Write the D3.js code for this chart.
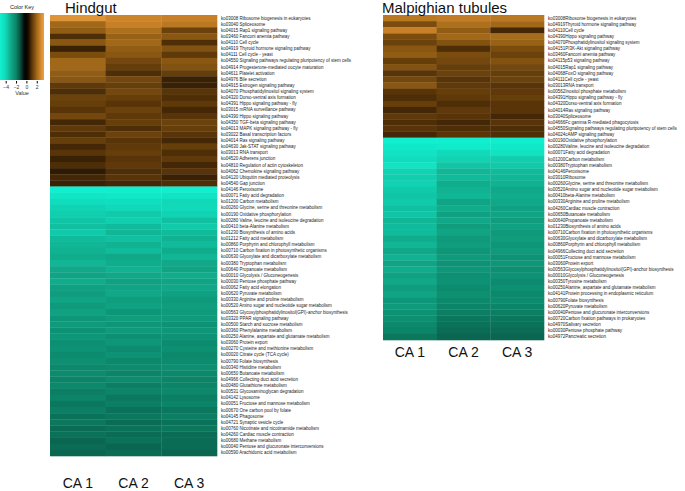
<!DOCTYPE html>
<html><head><meta charset="utf-8">
<script src="https://cdn.jsdelivr.net/npm/d3@7/dist/d3.min.js"></script>
<style>body{margin:0;background:#fff}svg{display:block}</style>
</head><body>
<svg id="c" width="685" height="491"></svg>
<script>
const samples = ["CA 1","CA 2","CA 3"];
const keyTicks = [-4,-2,0,2];

const hgLabels = ["ko03008 Ribosome biogenesis in eukaryotes","ko03040 Spliceosome","ko04015 Rap1 signaling pathway","ko03460 Fanconi anemia pathway","ko04110 Cell cycle","ko04919 Thyroid hormone signaling pathway","ko04111 Cell cycle - yeast","ko04550 Signaling pathways regulating pluripotency of stem cells","ko04914 Progesterone-mediated oocyte maturation","ko04611 Platelet activation","ko04976 Bile secretion","ko04915 Estrogen signaling pathway","ko04070 Phosphatidylinositol signaling system","ko04320 Dorso-ventral axis formation","ko04391 Hippo signaling pathway - fly","ko03015 mRNA surveillance pathway","ko04390 Hippo signaling pathway","ko04350 TGF-beta signaling pathway","ko04013 MAPK signaling pathway - fly","ko03022 Basal transcription factors","ko04014 Ras signaling pathway","ko04630 Jak-STAT signaling pathway","ko03013 RNA transport","ko04520 Adherens junction","ko04810 Regulation of actin cytoskeleton","ko04062 Chemokine signaling pathway","ko04120 Ubiquitin mediated proteolysis","ko04540 Gap junction","ko04146 Peroxisome","ko00071 Fatty acid degradation","ko01200 Carbon metabolism","ko00260 Glycine, serine and threonine metabolism","ko00190 Oxidative phosphorylation","ko00280 Valine, leucine and isoleucine degradation","ko00410 beta-Alanine metabolism","ko01230 Biosynthesis of amino acids","ko01212 Fatty acid metabolism","ko00860 Porphyrin and chlorophyll metabolism","ko00710 Carbon fixation in photosynthetic organisms","ko00630 Glyoxylate and dicarboxylate metabolism","ko00380 Tryptophan metabolism","ko00640 Propanoate metabolism","ko00010 Glycolysis / Gluconeogenesis","ko00030 Pentose phosphate pathway","ko00062 Fatty acid elongation","ko00620 Pyruvate metabolism","ko00330 Arginine and proline metabolism","ko00520 Amino sugar and nucleotide sugar metabolism","ko00563 Glycosylphosphatidylinositol(GPI)-anchor biosynthesis","ko03320 PPAR signaling pathway","ko00500 Starch and sucrose metabolism","ko00360 Phenylalanine metabolism","ko00250 Alanine, aspartate and glutamate metabolism","ko03060 Protein export","ko00270 Cysteine and methionine metabolism","ko00020 Citrate cycle (TCA cycle)","ko00790 Folate biosynthesis","ko00340 Histidine metabolism","ko00650 Butanoate metabolism","ko04966 Collecting duct acid secretion","ko00480 Glutathione metabolism","ko00531 Glycosaminoglycan degradation","ko04142 Lysosome","ko00051 Fructose and mannose metabolism","ko00670 One carbon pool by folate","ko04145 Phagosome","ko04721 Synaptic vesicle cycle","ko00760 Nicotinate and nicotinamide metabolism","ko04260 Cardiac muscle contraction","ko00680 Methane metabolism","ko00040 Pentose and glucuronate interconversions","ko00590 Arachidonic acid metabolism"];

const hgCA1 = [3.0,2.0,1.8,0.9,1.7,0.7,1.5,2.0,2.0,1.8,1.7,1.1,0.9,1.3,1.2,1.0,1.4,0.8,1.1,0.9,1.2,0.8,1.0,0.7,0.9,0.6,0.8,0.7,
 -5.0,-4.6,-4.2,-3.9,-3.8,-3.6,-3.5,-3.7,-3.4,-3.3,-3.2,-3.1,-3.3,-3.0,-2.9,-3.1,-2.8,-2.7,-2.9,-2.6,-2.8,-2.5,-2.6,-2.4,-2.5,-2.3,-2.4,-2.2,-2.3,-2.1,-2.2,-2.0,-2.1,-1.9,-2.0,-1.8,-1.9,-1.7,-1.8,-1.6,-1.7,-1.5,-1.6,-1.5];
const hgCA2 = [2.7,2.6,2.2,1.9,2.0,1.8,1.7,1.4,1.2,0.9,1.4,1.2,1.4,1.2,1.0,1.3,1.1,1.2,0.9,1.3,1.0,1.1,1.2,1.0,1.1,0.9,1.0,0.8,
 -4.9,-4.7,-4.3,-4.0,-3.7,-3.8,-3.4,-3.3,-3.5,-3.2,-3.4,-3.0,-3.1,-3.2,-3.0,-2.8,-2.9,-3.0,-2.7,-2.8,-2.5,-2.7,-2.5,-2.6,-2.3,-2.5,-2.2,-2.4,-2.1,-2.2,-2.0,-2.2,-1.9,-2.0,-1.8,-1.9,-1.7,-1.8,-1.6,-1.7,-1.6,-1.7,-1.5,-1.6];
const hgCA3 = [2.6,2.4,1.3,1.7,0.9,1.6,1.1,1.7,1.6,1.2,0.7,0.7,1.0,0.9,1.1,0.8,1.0,1.3,1.2,1.0,0.8,1.2,0.9,1.1,0.8,1.0,0.7,0.9,
 -5.0,-4.5,-4.0,-4.1,-3.9,-3.5,-3.7,-3.4,-3.2,-3.4,-3.1,-3.3,-3.0,-2.9,-3.1,-2.9,-3.0,-2.8,-2.6,-2.7,-2.6,-2.6,-2.4,-2.5,-2.4,-2.2,-2.3,-2.1,-2.2,-2.3,-2.1,-2.0,-2.0,-2.1,-1.9,-2.0,-1.8,-1.9,-1.7,-1.8,-1.6,-1.6,-1.6,-1.5];

const mtLabels = ["ko03008Ribosome biogenesis in eukaryotes","ko04919Thyroid hormone signaling pathway","ko04110Cell cycle","ko04390Hippo signaling pathway","ko04070Phosphatidylinositol signaling system","ko04151PI3K-Akt signaling pathway","ko03460Fanconi anemia pathway","ko04115p53 signaling pathway","ko04015Rap1 signaling pathway","ko04068FoxO signaling pathway","ko04111Cell cycle - yeast","ko03013RNA transport","ko00562Inositol phosphate metabolism","ko04391Hippo signaling pathway - fly","ko04320Dorso-ventral axis formation","ko04014Ras signaling pathway","ko03040Spliceosome","ko04666Fc gamma R-mediated phagocytosis","ko04550Signaling pathways regulating pluripotency of stem cells","ko04024cAMP signaling pathway","ko00190Oxidative phosphorylation","ko00280Valine, leucine and isoleucine degradation","ko00071Fatty acid degradation","ko01200Carbon metabolism","ko00380Tryptophan metabolism","ko04146Peroxisome","ko03010Ribosome","ko00260Glycine, serine and threonine metabolism","ko00520Amino sugar and nucleotide sugar metabolism","ko00410beta-Alanine metabolism","ko00330Arginine and proline metabolism","ko04260Cardiac muscle contraction","ko00650Butanoate metabolism","ko00640Propanoate metabolism","ko01230Biosynthesis of amino acids","ko00710Carbon fixation in photosynthetic organisms","ko00630Glyoxylate and dicarboxylate metabolism","ko00860Porphyrin and chlorophyll metabolism","ko04966Collecting duct acid secretion","ko00051Fructose and mannose metabolism","ko03060Protein export","ko00563Glycosylphosphatidylinositol(GPI)-anchor biosynthesis","ko00010Glycolysis / Gluconeogenesis","ko00350Tyrosine metabolism","ko00250Alanine, aspartate and glutamate metabolism","ko04141Protein processing in endoplasmic reticulum","ko00790Folate biosynthesis","ko00620Pyruvate metabolism","ko00040Pentose and glucuronate interconversions","ko00720Carbon fixation pathways in prokaryotes","ko04970Salivary secretion","ko00030Pentose phosphate pathway","ko04972Pancreatic secretion"];

const mtCA1 = [2.4,1.5,2.6,1.5,1.3,1.7,1.8,1.2,1.6,1.0,1.4,1.7,1.0,0.9,1.2,0.8,1.1,0.9,1.0,0.8,
 -5.0,-4.7,-4.5,-4.2,-4.5,-3.9,-3.8,-3.9,-3.7,-3.6,-3.7,-3.5,-3.6,-3.3,-3.4,-3.4,-3.1,-3.3,-3.0,-3.2,-2.9,-3.1,-2.8,-3.0,-2.7,-2.9,-2.5,-2.6,-2.4,-2.3,-2.1,-2.0,-1.8];
const mtCA2 = [2.5,2.2,1.8,2.0,1.6,0.9,1.5,1.4,1.2,1.3,1.0,1.1,1.2,1.1,0.9,1.1,1.0,0.8,0.9,1.0,
 -5.0,-4.8,-4.1,-3.9,-3.6,-3.3,-3.4,-3.1,-3.2,-3.3,-2.9,-3.1,-2.8,-3.0,-2.7,-2.9,-2.6,-2.7,-2.5,-2.6,-2.4,-2.5,-2.3,-2.4,-2.2,-2.3,-2.1,-2.0,-1.9,-1.8,-1.7,-1.6,-1.5];
const mtCA3 = [2.4,2.0,0.8,2.1,1.9,1.5,1.3,1.6,1.4,1.2,1.3,1.0,1.1,1.2,1.0,1.0,0.8,1.0,0.9,0.9,
 -4.9,-4.7,-4.4,-3.8,-3.7,-3.4,-3.3,-3.2,-3.0,-3.1,-3.0,-2.8,-2.9,-2.7,-2.8,-2.6,-2.7,-2.5,-2.6,-2.4,-2.5,-2.3,-2.4,-2.2,-2.3,-2.1,-2.2,-2.0,-1.9,-1.8,-1.7,-1.6,-1.5];

const color = d3.scaleLinear()
  .domain([-5,-4,-3,-2,-1.5,-1,-0.3,0.3,1,1.5,2,2.6,3.2])
  .range(["#10f0d0","#10d8b8","#10a888","#0c8468","#0a6650","#064032","#000000","#100800","#583408","#7a4c0e","#a06818","#c88028","#e8a040"])
  .clamp(true);

const svg = d3.select("#c");
const FONT = "'Liberation Sans', Arial, sans-serif";

function heatmap(cfg){
  const {x0, x1, y0, y1, labels, cols, title, fs, pad} = cfg;
  const g = svg.append("g");
  const xs = d3.scaleBand().domain(samples).range([x0, x1]);
  const ys = d3.scaleBand().domain(labels).range([y0, y1]);
  samples.forEach((s, j) => {
    g.selectAll(null).data(labels).enter().append("rect")
      .attr("x", xs(s)).attr("y", d => ys(d))
      .attr("width", xs.bandwidth()+0.3).attr("height", ys.bandwidth()+0.3)
      .attr("fill", (d,i) => color(cols[j][i]));
  });
  const ya = g.append("g").attr("transform", `translate(${x1},0)`).call(d3.axisRight(ys).tickSize(0).tickPadding(4));
  ya.select(".domain").remove();
  ya.selectAll("text").attr("font-family", FONT).attr("font-size", fs).attr("fill","#222");
  const xa = g.append("g").attr("transform", `translate(0,${y1})`).call(d3.axisBottom(xs).tickSize(0).tickPadding(pad));
  xa.select(".domain").remove();
  xa.selectAll("text").attr("font-family", FONT).attr("font-size", 14).attr("fill","#111");
  svg.append("text").attr("x", cfg.tx).attr("y", 13).attr("font-family", FONT)
    .attr("font-size", 15).attr("fill","#111").text(title);
}

heatmap({x0:50, x1:217, y0:15, y1:456, labels:hgLabels, cols:[hgCA1,hgCA2,hgCA3], title:"Hindgut", tx:65, fs:4.5, pad:22});
heatmap({x0:383, x1:544, y0:15, y1:340, labels:mtLabels, cols:[mtCA1,mtCA2,mtCA3], title:"Malpighian tubules", tx:382, fs:4.5, pad:7});

// color key
const kx = d3.scaleLinear().domain([-5.1, 3.4]).range([0, 44]);
const defs = svg.append("defs");
const grad = defs.append("linearGradient").attr("id","kg").attr("x1","0").attr("x2","1").attr("y1","0").attr("y2","0");
d3.range(0, 1.0001, 0.05).forEach(t => {
  const v = -5.1 + t*8.5;
  grad.append("stop").attr("offset", t).attr("stop-color", color(v));
});
svg.append("text").attr("x", 22).attr("y", 9).attr("text-anchor","middle")
  .attr("font-family", FONT).attr("font-size", 5.5).attr("fill","#222").text("Color Key");
svg.append("rect").attr("x", kx(-5.1)).attr("y", 13).attr("width", kx(3.4)-kx(-5.1)).attr("height", 67).attr("fill","url(#kg)");
const ka = svg.append("g").attr("transform","translate(0,81)").call(d3.axisBottom(kx).tickValues(keyTicks).tickSize(2.5).tickPadding(1.5));
ka.select(".domain").remove();
ka.selectAll("text").attr("font-family", FONT).attr("font-size", 5).attr("fill","#333");
svg.append("text").attr("x", 22).attr("y", 95).attr("text-anchor","middle")
  .attr("font-family", FONT).attr("font-size", 5.5).attr("fill","#333").text("Value");
</script>
</body></html>
